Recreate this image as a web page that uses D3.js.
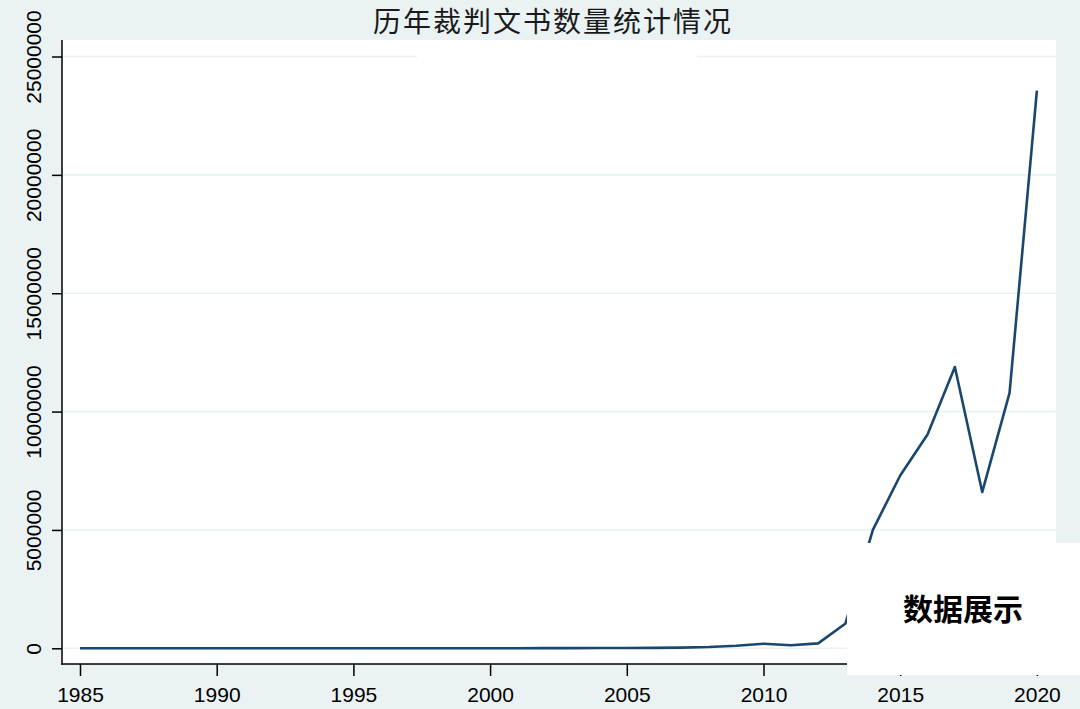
<!DOCTYPE html>
<html>
<head>
<meta charset="utf-8">
<script src="https://cdn.jsdelivr.net/npm/d3@7"></script>
<style>
  html, body { margin: 0; padding: 0; background: #eaf2f3; }
  svg { display: block; }
</style>
</head>
<body>
<svg id="chart" width="1080" height="709"></svg>
<script>
const title = "历年裁判文书数量统计情况";
const years = [1985,1986,1987,1988,1989,1990,1991,1992,1993,1994,1995,1996,1997,1998,1999,2000,2001,2002,2003,2004,2005,2006,2007,2008,2009,2010,2011,2012,2013,2014,2015,2016,2017,2018,2019,2020];
const counts = [60,70,80,90,100,150,200,250,300,400,500,700,900,1200,1600,2500,4000,6000,8000,11000,15000,20000,30000,55000,110000,195000,127000,210000,1050000,5000000,7300000,9030000,11880000,6600000,10790000,23560000];
const xTicks = [1985,1990,1995,2000,2005,2010,2015,2020];
const yTicks = [0,5000000,10000000,15000000,20000000,25000000];
const stampText = "数据展示";

const svg = d3.select("#chart");
const W = 1080, H = 709;
const plot = {left: 62, right: 1056, top: 40, bottom: 664};

svg.append("rect").attr("x",0).attr("y",0).attr("width",W).attr("height",H).attr("fill","#eaf2f3");
svg.append("rect").attr("x",plot.left).attr("y",plot.top)
  .attr("width",plot.right-plot.left).attr("height",plot.bottom-plot.top).attr("fill","#ffffff");

const x = d3.scaleLinear().domain([1985,2020]).range([80, 1036.9]);
const y = d3.scaleLinear().domain([0,25000000]).range([648.3, 56.5]);

// gridlines
svg.append("g").selectAll("line").data(yTicks).join("line")
  .attr("x1",plot.left).attr("x2",plot.right)
  .attr("y1",d=>y(d)).attr("y2",d=>y(d))
  .attr("stroke","#eaf2f3").attr("stroke-width",1.6);

// line
const line = d3.line().x((d,i)=>x(years[i])).y(d=>y(d));
svg.append("path").datum(counts).attr("d",line)
  .attr("fill","none").attr("stroke","#1a476f").attr("stroke-width",2.6)
  .attr("stroke-linejoin","round");

// y axis
const yAxis = d3.axisLeft(y).tickValues(yTicks).tickSize(10).tickFormat(d3.format("d"));
const gy = svg.append("g").attr("transform",`translate(${plot.left},0)`).call(yAxis);
gy.select(".domain").remove();
gy.selectAll(".tick line").attr("stroke","#000").attr("stroke-width",1.5);
gy.selectAll(".tick text").remove();
gy.selectAll(".tick").append("text")
  .attr("transform","translate(-21,0) rotate(-90)")
  .attr("text-anchor","middle").attr("dy","0")
  .attr("fill","#000").attr("font-family","'Liberation Sans', Arial, sans-serif")
  .attr("font-size",21).text(d=>d3.format("d")(d));
svg.append("line").attr("x1",plot.left).attr("x2",plot.left).attr("y1",plot.top).attr("y2",plot.bottom+0.75)
  .attr("stroke","#000").attr("stroke-width",1.5);

// x axis
const xAxis = d3.axisBottom(x).tickValues(xTicks).tickSize(12).tickFormat(d3.format("d"));
const gx = svg.append("g").attr("transform",`translate(0,${plot.bottom})`).call(xAxis);
gx.select(".domain").remove();
gx.selectAll(".tick line").attr("stroke","#000").attr("stroke-width",1.5);
gx.selectAll(".tick text").attr("y",38).attr("dy","0").attr("fill","#000")
  .attr("font-family","'Liberation Sans', Arial, sans-serif").attr("font-size",21);
svg.append("line").attr("x1",plot.left-0.75).attr("x2",plot.right).attr("y1",plot.bottom).attr("y2",plot.bottom)
  .attr("stroke","#000").attr("stroke-width",1.5);

// title
svg.append("text").attr("x",553).attr("y",32).attr("text-anchor","middle")
  .attr("font-family","'Noto Sans CJK SC', sans-serif").attr("font-size",28)
  .attr("letter-spacing",2).attr("fill","#1a1a1a").text(title);

// cover boxes
svg.append("rect").attr("x",417).attr("y",40).attr("width",280).attr("height",20).attr("fill","#ffffff");
svg.append("rect").attr("x",847).attr("y",543).attr("width",233).attr("height",132).attr("fill","#ffffff");
svg.append("text").attr("x",963).attr("y",620).attr("text-anchor","middle")
  .attr("font-family","'Noto Sans CJK SC', sans-serif").attr("font-weight","bold")
  .attr("font-size",30).attr("fill","#000").text(stampText);
</script>
</body>
</html>
